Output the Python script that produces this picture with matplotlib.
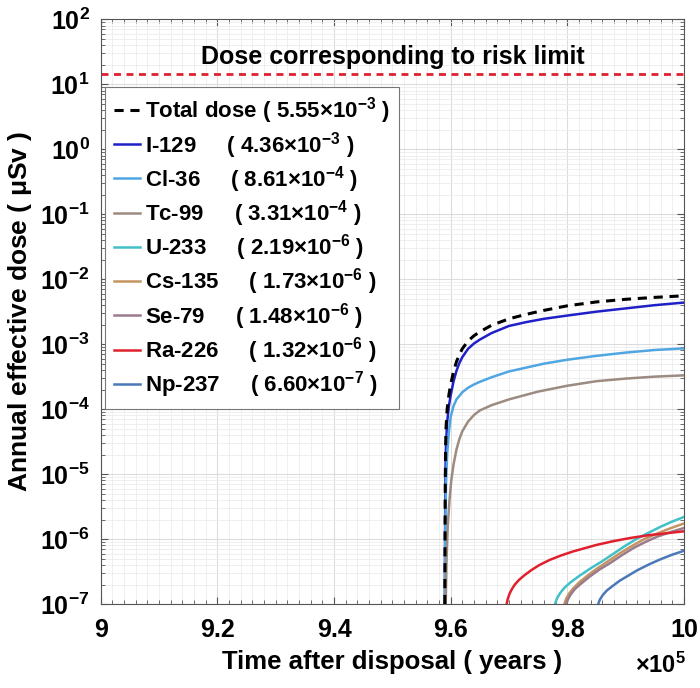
import numpy as np
import matplotlib
matplotlib.use('Agg')
import matplotlib.pyplot as plt
from matplotlib.ticker import FuncFormatter, MultipleLocator, LogLocator

plt.rcParams['font.family'] = ['Liberation Sans', 'DejaVu Sans']
plt.rcParams['font.weight'] = 'bold'
plt.rcParams['mathtext.fontset'] = 'custom'
plt.rcParams['mathtext.rm'] = 'Liberation Sans:bold'
plt.rcParams['mathtext.bf'] = 'Liberation Sans:bold'
plt.rcParams['mathtext.it'] = 'Liberation Sans:italic:bold'
plt.rcParams['mathtext.default'] = 'rm'

# time in units of 1e5 years, dose as log10(uSv)
t_total = [9.5900, 9.5903, 9.5907, 9.5913, 9.592, 9.594, 9.597, 9.600, 9.605, 9.61, 9.615, 9.62, 9.63, 9.64, 9.65,
           9.67, 9.70, 9.73, 9.76, 9.80, 9.85, 9.90, 9.95, 10.0]
d_total = [-7.0, -6.0, -5.2, -4.6, -4.3, -4.0, -3.78, -3.62, -3.42, -3.27, -3.16, -3.07, -2.95, -2.87, -2.81,
           -2.71, -2.61, -2.54, -2.48, -2.41, -2.35, -2.31, -2.28, -2.256]

t_i129 = [9.5900, 9.5903, 9.5907, 9.5913, 9.592, 9.594, 9.597, 9.600, 9.605, 9.61, 9.615, 9.62, 9.63, 9.64, 9.65,
          9.67, 9.70, 9.73, 9.76, 9.80, 9.85, 9.90, 9.95, 10.0]
d_i129 = [-7.0, -6.2, -5.4, -4.85, -4.55, -4.2, -3.95, -3.79, -3.57, -3.41, -3.29, -3.20, -3.07, -2.99, -2.93,
          -2.83, -2.72, -2.66, -2.61, -2.56, -2.50, -2.45, -2.40, -2.36]

t_cl36 = [9.5902, 9.5906, 9.591, 9.592, 9.594, 9.597, 9.600, 9.605, 9.61, 9.62, 9.63, 9.64, 9.65, 9.67, 9.70,
          9.73, 9.76, 9.80, 9.85, 9.90, 9.95, 10.0]
d_cl36 = [-7.0, -6.2, -5.7, -5.15, -4.7, -4.35, -4.12, -3.95, -3.85, -3.74, -3.67, -3.62, -3.58, -3.51, -3.42,
          -3.36, -3.30, -3.24, -3.18, -3.13, -3.09, -3.065]

t_tc99 = [9.5915, 9.593, 9.595, 9.598, 9.601, 9.605, 9.61, 9.615, 9.62, 9.63, 9.64, 9.65, 9.67, 9.70, 9.75,
          9.80, 9.85, 9.90, 9.95, 10.0]
d_tc99 = [-7.0, -6.3, -5.8, -5.4, -5.1, -4.85, -4.62, -4.46, -4.34, -4.19, -4.09, -4.02, -3.94, -3.85, -3.73,
          -3.64, -3.57, -3.53, -3.50, -3.48]

t_u233 = [9.779, 9.782, 9.787, 9.795, 9.805, 9.82, 9.84, 9.86, 9.88, 9.90, 9.92, 9.94, 9.96, 9.98, 10.0]
d_u233 = [-7.0, -6.92, -6.84, -6.75, -6.67, -6.57, -6.45, -6.34, -6.22, -6.10, -5.99, -5.90, -5.81, -5.73, -5.66]

t_cs135 = [9.795, 9.798, 9.803, 9.81, 9.82, 9.835, 9.85, 9.87, 9.89, 9.91, 9.93, 9.95, 9.975, 10.0]
d_cs135 = [-7.0, -6.92, -6.84, -6.76, -6.67, -6.56, -6.46, -6.34, -6.22, -6.11, -6.01, -5.93, -5.84, -5.76]

t_se79 = [9.798, 9.801, 9.806, 9.813, 9.823, 9.838, 9.855, 9.875, 9.895, 9.915, 9.935, 9.955, 9.978, 10.0]
d_se79 = [-7.0, -6.93, -6.85, -6.77, -6.69, -6.58, -6.47, -6.36, -6.24, -6.13, -6.04, -5.96, -5.89, -5.83]

t_ra226 = [9.696, 9.698, 9.701, 9.705, 9.710, 9.717, 9.726, 9.738, 9.752, 9.77, 9.79, 9.81, 9.83, 9.85, 9.88, 9.91,
           9.94, 9.97, 10.0]
d_ra226 = [-7.0, -6.92, -6.84, -6.77, -6.70, -6.63, -6.56, -6.48, -6.40, -6.32, -6.25, -6.19, -6.14, -6.09, -6.03,
           -5.98, -5.94, -5.91, -5.88]

t_np237 = [9.853, 9.856, 9.861, 9.868, 9.878, 9.89, 9.905, 9.92, 9.94, 9.96, 9.98, 10.0]
d_np237 = [-7.0, -6.93, -6.86, -6.79, -6.72, -6.64, -6.56, -6.48, -6.39, -6.31, -6.24, -6.18]

risk_limit = 14.3

labels = ['Total dose ( 5.55$\\times$10$^{-3}$ )',
          'I-129     ( 4.36$\\times$10$^{-3}$ )',
          'Cl-36     ( 8.61$\\times$10$^{-4}$ )',
          'Tc-99     ( 3.31$\\times$10$^{-4}$ )',
          'U-233     ( 2.19$\\times$10$^{-6}$ )',
          'Cs-135     ( 1.73$\\times$10$^{-6}$ )',
          'Se-79     ( 1.48$\\times$10$^{-6}$ )',
          'Ra-226     ( 1.32$\\times$10$^{-6}$ )',
          'Np-237     ( 6.60$\\times$10$^{-7}$ )']

fig = plt.figure(figsize=(7, 6.88), dpi=100)
ax = fig.add_axes([0.144, 0.122, 0.833, 0.850])

series = [
    (t_i129, d_i129, '#2020c8', 1, labels[1]),
    (t_cl36, d_cl36, '#4fa6e2', 2, labels[2]),
    (t_tc99, d_tc99, '#9c8b80', 3, labels[3]),
    (t_u233, d_u233, '#42c0c8', 4, labels[4]),
    (t_cs135, d_cs135, '#c49462', 5, labels[5]),
    (t_se79, d_se79, '#9a7a8c', 6, labels[6]),
    (t_ra226, d_ra226, '#e0202c', 7, labels[7]),
    (t_np237, d_np237, '#4a78b8', 8, labels[8]),
]

handles = []
h, = ax.plot(t_total, 10 ** np.array(d_total), color='black', ls=(0, (3, 2.2)), lw=2.2, zorder=10, label=labels[0])
handles.append(h)
for t, d, c, z, lab in series:
    h, = ax.plot(t, 10 ** np.array(d), color=c, lw=1.8, zorder=z, label=lab)
    handles.append(h)

ax.axhline(risk_limit, color='#e02030', ls=(0, (2.5, 2)), lw=2)
ax.text(9.50, 10 ** 1.42, 'Dose corresponding to risk limit', ha='center', va='center',
        fontsize=18, fontweight='bold')

ax.set_yscale('log')
ax.set_xlim(9, 10)
ax.set_ylim(1e-7, 1e2)
ax.xaxis.set_major_locator(MultipleLocator(0.2))
ax.xaxis.set_minor_locator(MultipleLocator(0.02))
ax.xaxis.set_major_formatter(FuncFormatter(lambda v, p: f'{v:g}'))
ax.yaxis.set_major_locator(LogLocator(base=10, numticks=20))
ax.yaxis.set_minor_locator(LogLocator(base=10, subs=np.arange(2, 10), numticks=20))

ax.grid(which='major', color='#dcdcdc', lw=0.8)
ax.grid(which='minor', color='#ececec', lw=0.6)
ax.set_axisbelow(True)
ax.tick_params(which='both', direction='in', top=True, right=True, color='#555555')
ax.tick_params(which='major', length=5, labelsize=18)
ax.tick_params(axis='x', which='major', pad=10)
ax.tick_params(axis='y', which='major', pad=8)
ax.tick_params(which='minor', length=3)
for s in ax.spines.values():
    s.set_color('#555555')
    s.set_linewidth(0.8)

ax.set_xlabel('Time after disposal ( years )', fontsize=18.5, fontweight='bold', labelpad=6)
ax.set_ylabel('Annual effective dose ( $\\mu$Sv )', fontsize=19, fontweight='bold', labelpad=4)
ax.text(0.96, -0.105, '$\\times$10$^5$', transform=ax.transAxes, ha='center', va='center', fontsize=17)

leg = ax.legend(handles=handles, loc='upper left', bbox_to_anchor=(0.007, 0.885), borderaxespad=0,
                fontsize=16, handlelength=1.2, handletextpad=0.2, labelspacing=0.15,
                fancybox=False, framealpha=1, edgecolor='#777777', borderpad=0.4)
leg.get_frame().set_linewidth(0.8)

plt.savefig('out.png', dpi=100)
